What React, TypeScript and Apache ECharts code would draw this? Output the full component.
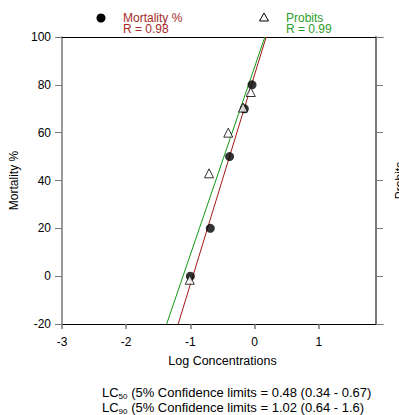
import React, { useEffect, useRef } from "react";
import * as echarts from "echarts";

const mortalityX = [-1.0, -0.69, -0.39, -0.16, -0.04];
const mortalityY = [0, 20, 50, 70, 80];
const probitX = [-1.01, -0.71, -0.41, -0.18, -0.06];
const probitY = [-1.5, 43, 60, 70.5, 77];
const mortalityFitX = [-1.19, 0.18];
const mortalityFitY = [-20, 100];
const probitFitX = [-1.37, 0.16];
const probitFitY = [-20, 100];
const xTicks = [-3, -2, -1, 0, 1];
const seriesNames = ["Mortality %", "Probits"];
const rValues = ["R = 0.98", "R = 0.99"];

const RED = "#a52a2a";
const GREEN = "#2ca02c";
const FONT = "Liberation Sans, Arial, sans-serif";

function pairs(xs: number[], ys: number[]) {
  return xs.map((x, i) => [x, ys[i]]);
}

export default function App() {
  const ref = useRef<HTMLDivElement>(null);
  useEffect(() => {
    document.body.style.margin = "0";
    const chart = echarts.init(ref.current!, null, { renderer: "svg" });
    const axisText = { color: "#000", fontSize: 12, fontFamily: FONT };
    const legendText = (x: number, y: number, text: string, fill: string) => ({
      type: "text",
      left: x,
      top: y,
      style: { text, fill, fontSize: 12, lineHeight: 11, fontFamily: FONT },
    });
    chart.setOption({
      animation: false,
      backgroundColor: "#fff",
      textStyle: { fontFamily: FONT },
      grid: { left: 62, top: 37, width: 321, height: 287, outerBoundsMode: "none", containLabel: false },
      graphic: [
        { type: "circle", shape: { cx: 101, cy: 18, r: 4.5 }, style: { fill: "#000" } },
        legendText(123, 12, seriesNames[0] + "\n" + rValues[0], RED),
        { type: "polygon", shape: { points: [[264, 13], [268.5, 21], [259.5, 21]] }, style: { fill: "#fff", stroke: "#000", lineWidth: 1 } },
        legendText(286, 12, seriesNames[1] + "\n" + rValues[1], GREEN),
        {
          type: "text",
          left: 102,
          top: 386,
          style: {
            text: "{a|LC}{s|50}{a| (5% Confidence limits = 0.48 (0.34 - 0.67)}\n{a|LC}{s|90}{a| (5% Confidence limits = 1.02 (0.64 - 1.6)}",
            rich: {
              a: { fontSize: 13, lineHeight: 15, fill: "#000", fontFamily: FONT },
              s: { fontSize: 8, lineHeight: 9, verticalAlign: "bottom", fill: "#000", fontFamily: FONT },
            },
          },
        },
      ],
      xAxis: [
        {
          type: "value",
          min: -3,
          max: 2,
          interval: 1,
          position: "bottom",
          name: "Log Concentrations",
          nameLocation: "middle",
          nameGap: 30,
          nameTextStyle: { ...axisText, fontSize: 12.5 },
          axisLine: { show: true, onZero: false, lineStyle: { color: "#000", width: 1 } },
          axisTick: { show: true, length: 5, customValues: xTicks, lineStyle: { color: "#777", width: 1.5 } },
          axisLabel: { ...axisText, margin: 12, customValues: xTicks },
          splitLine: { show: false },
        },
        {
          type: "value",
          min: -3,
          max: 2,
          position: "top",
          axisLine: { show: true, onZero: false, lineStyle: { color: "#000", width: 1 } },
          axisTick: { show: false },
          axisLabel: { show: false },
          splitLine: { show: false },
        },
      ],
      yAxis: [
        {
          type: "value",
          min: -20,
          max: 100,
          interval: 20,
          position: "left",
          name: "Mortality %",
          nameLocation: "middle",
          nameGap: 40,
          nameTextStyle: { ...axisText },
          axisLine: { show: true, onZero: false, lineStyle: { color: "#777", width: 1.5 } },
          axisTick: { show: true, length: 7, lineStyle: { color: "#777", width: 1 } },
          axisLabel: { ...axisText, margin: 11 },
          splitLine: { show: false },
        },
        {
          type: "value",
          min: -20,
          max: 100,
          interval: 20,
          position: "right",
          offset: -7,
          name: "Probits",
          nameLocation: "middle",
          nameGap: 18,
          nameTextStyle: { ...axisText },
          axisLine: { show: true, onZero: false, lineStyle: { color: "#777", width: 2 } },
          axisTick: { show: true, length: 7, lineStyle: { color: "#777", width: 1 } },
          axisLabel: { show: false },
          splitLine: { show: false },
        },
      ],
      series: [
        {
          name: seriesNames[0] + " fit",
          type: "line",
          data: pairs(mortalityFitX, mortalityFitY),
          symbol: "none",
          lineStyle: { color: "#a01818", width: 1 },
          z: 1,
        },
        {
          name: seriesNames[1] + " fit",
          type: "line",
          data: pairs(probitFitX, probitFitY),
          symbol: "none",
          lineStyle: { color: "#119911", width: 1 },
          z: 1,
        },
        {
          name: seriesNames[0],
          type: "scatter",
          data: pairs(mortalityX, mortalityY),
          symbol: "circle",
          symbolSize: 9,
          itemStyle: { color: "#000" },
          z: 3,
        },
        {
          name: seriesNames[1],
          type: "scatter",
          data: pairs(probitX, probitY),
          symbol: "triangle",
          symbolSize: 9,
          itemStyle: { color: "#fff", borderColor: "#000", borderWidth: 1 },
          z: 4,
        },
      ],
    });
    return () => chart.dispose();
  }, []);
  return <div ref={ref} style={{ position: "absolute", left: 0, top: 0, width: 399, height: 415 }} />;
}
